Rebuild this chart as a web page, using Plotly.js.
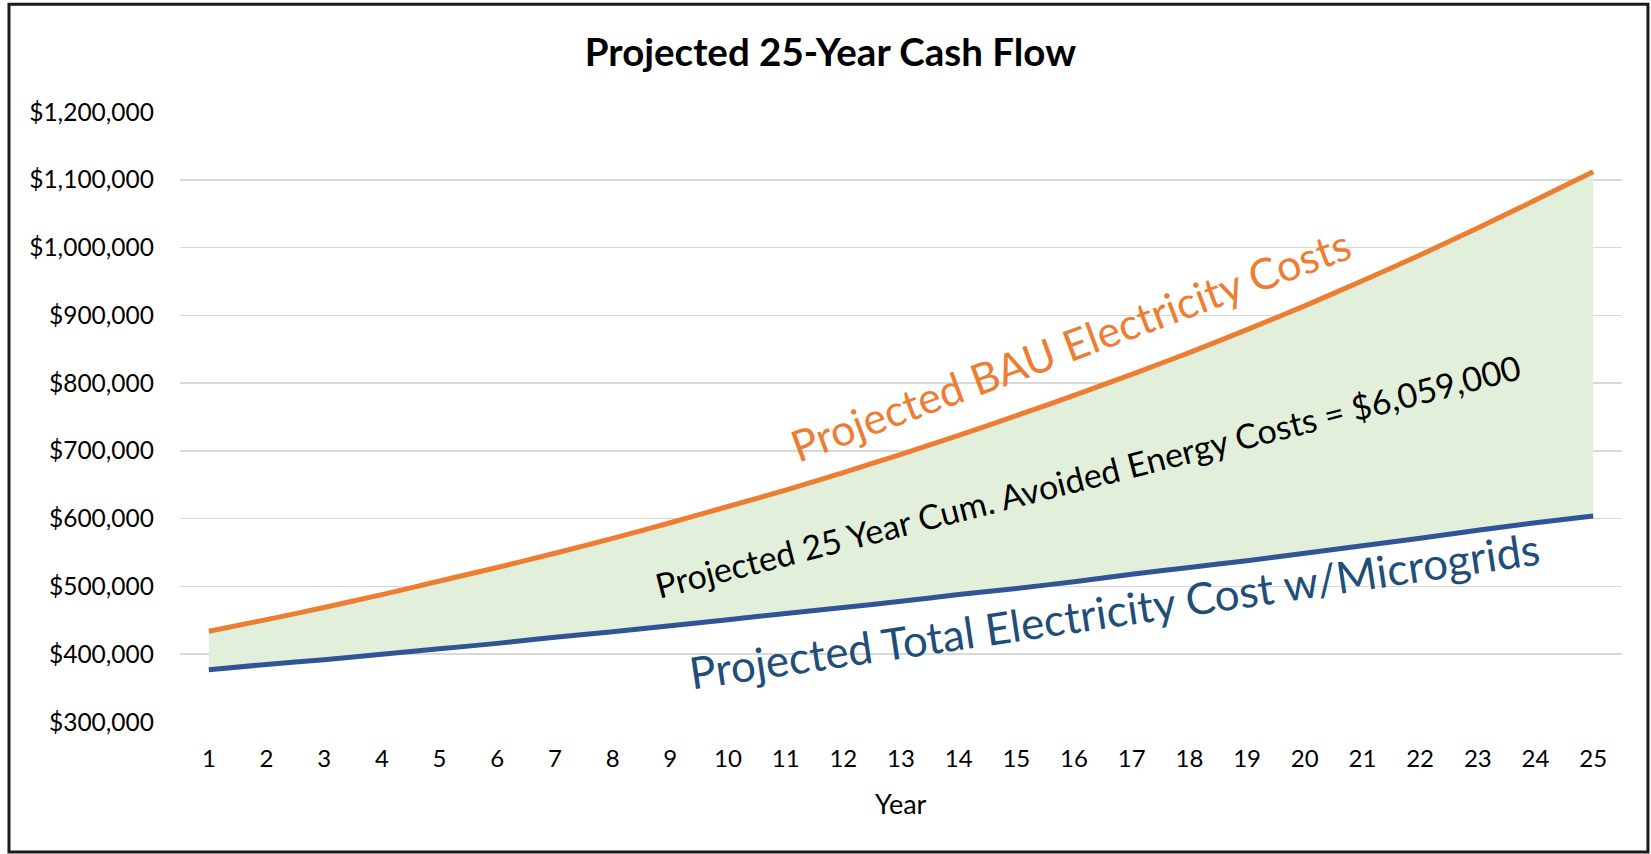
<!DOCTYPE html>
<html>
<head>
<meta charset="utf-8">
<script src="https://cdn.plot.ly/plotly-3.0.1.min.js"></script>
<style>
  html, body { margin: 0; padding: 0; background: #ffffff; }
  #chart { width: 1651px; height: 854px; }
</style>
</head>
<body>
<div id="chart"></div>
<script>
// Data
const years = [1,2,3,4,5,6,7,8,9,10,11,12,13,14,15,16,17,18,19,20,21,22,23,24,25];
const yearLabels = years.map(String);
const bauCosts = [434000, 451000, 469000, 488000, 508000, 528000, 549000, 571000, 594000, 618000,
                  642000, 668000, 695000, 723000, 752000, 782000, 813000, 845000, 879000, 914000,
                  951000, 989000, 1029000, 1070000, 1112000];
const microgridCosts = [377000, 385000, 392000, 400000, 408000, 416000, 425000, 433000, 442000, 451000,
                        460000, 469000, 478000, 488000, 497000, 507000, 518000, 528000, 538000, 549000,
                        560000, 571000, 583000, 594000, 604000];
const yTickVals = [300000, 400000, 500000, 600000, 700000, 800000, 900000, 1000000, 1100000, 1200000];
const yTickText = ['$300,000', '$400,000', '$500,000', '$600,000', '$700,000', '$800,000', '$900,000', '$1,000,000', '$1,100,000', '$1,200,000'];

const chartTitle = 'Projected 25-Year Cash Flow';
const xTitle = 'Year';
const labelBAU = 'Projected BAU Electricity Costs';
const labelAvoided = 'Projected 25 Year Cum. Avoided Energy Costs = $6,059,000';
const labelMicro = 'Projected Total Electricity Cost w/Microgrids';

const FONT = 'Lato, "Open Sans", sans-serif';
const ORANGE = '#ED7D31';
const BLUE = '#2F5597';
const BLUE_TEXT = '#1F4E79';
const GREEN_FILL = '#E2EFDA';

const traces = [
  { x: years, y: microgridCosts, type: 'scatter', mode: 'lines', line: { width: 0 }, hoverinfo: 'skip', showlegend: false },
  { x: years, y: bauCosts, type: 'scatter', mode: 'lines', line: { width: 0 }, fill: 'tonexty', fillcolor: GREEN_FILL, hoverinfo: 'skip', showlegend: false },
  { x: years, y: microgridCosts, type: 'scatter', mode: 'lines', line: { color: BLUE, width: 5, shape: 'spline', smoothing: 0.6 }, name: labelMicro, showlegend: false },
  { x: years, y: bauCosts, type: 'scatter', mode: 'lines', line: { color: ORANGE, width: 5, shape: 'spline', smoothing: 0.6 }, name: labelBAU, showlegend: false }
];

const layout = {
  width: 1651, height: 854,
  paper_bgcolor: '#ffffff', plot_bgcolor: '#ffffff',
  margin: { l: 180, r: 29, t: 112, b: 132, pad: 0 },
  font: { family: FONT, color: '#000000', size: 24 },
  title: { text: '<b>' + chartTitle + '</b>', x: 0.503, xref: 'container', xanchor: 'center', y: 0.938, yref: 'container', yanchor: 'middle', font: { family: FONT, size: 38.5, color: '#000000' } },
  xaxis: {
    range: [0.5, 25.5], tickmode: 'array', tickvals: years, ticktext: yearLabels,
    showgrid: false, zeroline: false, showline: false, ticks: '',
    tickfont: { family: FONT, size: 24, color: '#000000' }, ticklabelstandoff: 20, fixedrange: true
  },
  yaxis: {
    range: [300000, 1200000], tickmode: 'array', tickvals: yTickVals, ticktext: yTickText,
    showgrid: true, gridcolor: '#D9D9D9', gridwidth: 1.5, zeroline: false, showline: false, ticks: '',
    tickfont: { family: FONT, size: 24.5, color: '#000000' }, ticklabelstandoff: 25, fixedrange: true
  },
  annotations: [
    { text: xTitle, xref: 'paper', yref: 'paper', x: 0.5, y: -0.133, xanchor: 'center', yanchor: 'middle', showarrow: false, font: { family: FONT, size: 27, color: '#000000' } },
    { text: labelBAU, xref: 'x', yref: 'y', x: 15.94, y: 857000, xanchor: 'center', yanchor: 'middle', textangle: -20.3, showarrow: false, font: { family: FONT, size: 43, color: ORANGE } },
    { text: labelAvoided, xref: 'x', yref: 'y', x: 16.24, y: 664000, xanchor: 'center', yanchor: 'middle', textangle: -14.3, showarrow: false, font: { family: FONT, size: 34, color: '#000000' } },
    { text: labelMicro, xref: 'x', yref: 'y', x: 16.7, y: 465000, xanchor: 'center', yanchor: 'middle', textangle: -8.4, showarrow: false, font: { family: FONT, size: 44, color: BLUE_TEXT } }
  ],
  shapes: [
    { type: 'rect', xref: 'paper', yref: 'paper', x0: -0.1186, x1: 1.0180, y0: -0.2130, y1: 1.1765, line: { color: '#1a1a1a', width: 3 }, fillcolor: 'rgba(0,0,0,0)', layer: 'above' }
  ]
};

Plotly.newPlot('chart', traces, layout, { staticPlot: true, displayModeBar: false });
</script>
</body>
</html>
